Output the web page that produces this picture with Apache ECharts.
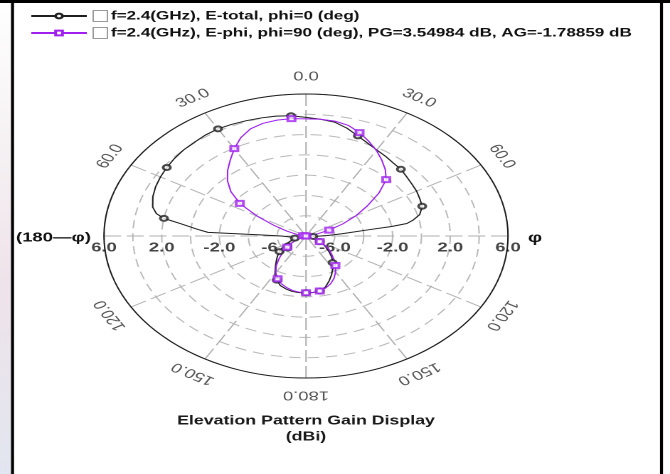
<!DOCTYPE html>
<html>
<head>
<meta charset="utf-8">
<script src="https://cdn.jsdelivr.net/npm/echarts@6/dist/echarts.min.js"></script>
<style>
  html, body { margin: 0; padding: 0; background: #ffffff; overflow: hidden; }
  /* the plot is drawn on a round polar grid and widened to the display's aspect */
  #chart { width: 471px; height: 474px; transform-origin: 0 0; }
</style>
</head>
<body>
<div id="chart"></div>
<script>
// Elevation cut angles (deg from zenith): positive on the φ side, negative on the 180−φ side
const angles = [-180,-175,-170,-165,-160,-155,-150,-145,-140,-135,-130,-125,-120,-115,-110,-105,-100,-95,-90,
  -88,-87,-85,-82,-80,-78,-75,-70,-65,-60,-55,-50,-45,-40,-35,-30,-25,-20,-15,-10,-5,0,5,10,15,20,25,30,35,40,45,
  50,55,60,65,70,75,78,80,81,82,85,88,90,95,100,105,110,115,120,125,130,135,140,145,150,155,160,165,170,175,180];

// Gain (dBi), f = 2.4 GHz, E-total, phi = 0
const eTotal = [-2.4,-2.4,-2.45,-2.6,-2.8,-3.2,-3.7,-4.3,-4.8,-5.2,-5.6,-6.0,-6.4,-6.8,-7.0,-7.2,-7.2,-6.9,-6.3,
  -4.8,-1.2,-0.45,0.8,2.0,2.6,3.0,3.3,3.5,3.65,3.78,3.9,4.0,4.05,4.15,4.2,4.15,4.1,4.05,4.0,3.9,3.7,3.55,3.4,3.0,2.5,
  2.1,1.8,1.6,1.4,1.3,1.1,0.95,0.85,0.7,0.57,0.16,-0.4,-0.9,-2.0,-3.7,-5.5,-6.5,-7.0,-7.5,-7.6,-7.5,-7.3,-7.1,-6.9,
  -6.5,-6.1,-5.7,-5.2,-4.8,-4.3,-3.8,-3.3,-2.8,-2.5,-2.4,-2.4];

// Gain (dBi), f = 2.4 GHz, E-phi, phi = 90
const ePhi = [-2.4,-2.45,-2.55,-2.75,-3.0,-3.35,-3.8,-4.4,-5.1,-5.7,-6.3,-6.8,-7.2,-7.5,-7.8,-8,-8,-8,-8,
  -8,-8,-8,-7.9,-7.8,-7.6,-7.3,-6.6,-5.6,-4.1,-2.4,-1.2,-0.3,0.45,1.15,1.94,2.7,3.25,3.5,3.6,3.62,3.55,3.55,3.5,3.3,2.85,
  2.3,1.75,1.15,0.55,-0.14,-1.4,-2.8,-4.0,-5.2,-6.3,-7.2,-7.5,-7.7,-7.75,-7.8,-7.9,-8,-8,-8,-8,-8,-7.8,-7.4,-6.9,
  -6.4,-5.9,-5.5,-5.0,-4.45,-3.9,-3.4,-3.0,-2.7,-2.5,-2.42,-2.4];

// Angles carrying a marker symbol
const markerAngles = [-180,-155,-130,-105,-80,-55,-30,-5,20,45,70,95,120,145,170];

// Radial scale (dBi)
const gainMin = -8;
const gainMax = 6;
const gainStep = 2;
const radialLabels = [6,2,-2,-6];

// Angular labels (deg)
const angleLabels = [0,30,60,120,150,180,-30,-60,-120,-150];

const seriesNames = ['f=2.4(GHz), E-total, phi=0 (deg)',
                     'f=2.4(GHz), E-phi, phi=90 (deg), PG=3.54984 dB, AG=-1.78859 dB'];

// horizontal stretch of the display (ellipse width / height)
const stretch = 202 / 142;
const pageW = 670, pageH = 474;
const baseW = pageW / stretch;
const el = document.getElementById('chart');
el.style.width = baseW + 'px';
el.style.transform = 'scaleX(' + stretch + ')';

const polarCenter = [306 / stretch, 236];
const polarRadius = 142;
const span = gainMax - gainMin;

const wrap = t => ((t % 360) + 360) % 360;

const series = [];

const curves = [
  { name: seriesNames[0], values: eTotal, color: '#1f1f1f', symbol: 'emptyCircle' },
  { name: seriesNames[1], values: ePhi, color: '#a020f0', symbol: 'emptyRect' }
];
curves.forEach(c => {
  series.push({
    name: c.name, type: 'line', coordinateSystem: 'polar',
    symbol: c.symbol, showSymbol: false, clip: false, z: 3,
    data: angles.map((t, i) => [c.values[i], wrap(t)]),
    lineStyle: { color: c.color, width: 1 },
    itemStyle: { color: c.color, borderColor: c.color, borderWidth: 0.8 }
  });
});
curves.forEach(c => {
  series.push({
    name: c.name, type: 'scatter', coordinateSystem: 'polar',
    symbol: c.symbol, symbolSize: 5, clip: false, z: 4,
    data: markerAngles.map(t => [c.values[angles.indexOf(t)], wrap(t)]),
    itemStyle: { color: c.color, borderColor: c.color, borderWidth: 0.8 }
  });
});

// angle labels just outside the boundary, turned along it
const labelGap = 17;
series.push({
  type: 'scatter', coordinateSystem: 'polar', symbolSize: 1, silent: true, clip: false,
  itemStyle: { color: 'transparent' },
  data: angleLabels.map(t => ({
    value: [gainMax + labelGap / polarRadius * span, wrap(t)],
    label: { rotate: -t, formatter: Math.abs(t).toFixed(1) }
  })),
  label: {
    show: true, position: 'inside', align: 'center', verticalAlign: 'middle',
    fontFamily: 'Liberation Sans', fontSize: 13, color: '#2a2a2a'
  }
});

// radial tick labels along the horizontal axis, both sides
series.push({
  type: 'scatter', coordinateSystem: 'polar', symbolSize: 1, silent: true, clip: false,
  itemStyle: { color: 'transparent' },
  data: radialLabels.flatMap(v => [90, 270].map(a => ({
    value: [v, a],
    label: { formatter: v.toFixed(1) }
  }))),
  label: {
    show: true, position: 'inside', offset: [0, 12], align: 'center', verticalAlign: 'middle',
    fontFamily: 'Liberation Sans', fontSize: 13, fontWeight: 'bold', color: '#161616'
  }
});

const chart = echarts.init(el, null, { renderer: 'canvas', devicePixelRatio: 2 });
chart.setOption({
  animation: false,
  backgroundColor: '#ffffff',
  polar: { center: polarCenter, radius: polarRadius },
  angleAxis: {
    type: 'value', min: 0, max: 360, interval: 30, startAngle: 90, clockwise: true, z: 2,
    axisLine: { show: true, lineStyle: { color: '#1e1e1e', width: 1 } },
    axisTick: { show: false }, axisLabel: { show: false },
    splitLine: { show: true, lineStyle: { color: '#b0b0b0', width: 1, type: [12, 4] } }
  },
  radiusAxis: {
    type: 'value', min: gainMin, max: gainMax, interval: gainStep, z: 1,
    axisLine: { show: false }, axisTick: { show: false }, axisLabel: { show: false },
    splitLine: { show: true, lineStyle: { color: '#b9b9b9', width: 1, type: [8, 5] } }
  },
  legend: {
    orient: 'vertical', left: 21, top: 9, padding: 0, itemWidth: 39, itemHeight: 6, itemGap: 3,
    data: seriesNames, selectedMode: false,
    formatter: name => '{box|}{t|' + name + '}',
    textStyle: {
      fontFamily: 'Liberation Sans', fontSize: 12, fontWeight: 'bold', color: '#111', lineHeight: 14,
      rich: {
        box: { width: 9, height: 10, borderColor: '#9a9a9a', borderWidth: 1, backgroundColor: '#fff' },
        t: { fontFamily: 'Liberation Sans', fontSize: 12, fontWeight: 'bold', color: '#111', lineHeight: 14, padding: [0, 0, 0, 3] }
      }
    }
  },
  graphic: [
    { type: 'rect', left: 0, top: 0, shape: { width: 11 / stretch, height: pageH },
      style: { fill: new echarts.graphic.LinearGradient(0, 0, 0, 1, [
        { offset: 0, color: '#ffffff' }, { offset: 0.3, color: '#f6f2f4' }, { offset: 0.6, color: '#efe3ea' }, { offset: 1, color: '#e2e6f0' }]) } },
    { type: 'rect', left: 0, top: 0, shape: { width: baseW, height: 3 }, style: { fill: '#000' } },
    { type: 'rect', left: 11 / stretch, top: 0, shape: { width: 3 / stretch, height: pageH }, style: { fill: '#000' } },
    { type: 'rect', left: 660 / stretch, top: 0, shape: { width: 3 / stretch, height: pageH }, style: { fill: '#000' } },
    { type: 'text', x: 16 / stretch, y: 238, style: { text: '(180—φ)', font: 'bold 13px "Liberation Sans"', fill: '#111', verticalAlign: 'middle' } },
    { type: 'text', x: 528 / stretch, y: 238, style: { text: 'φ', font: 'bold 14px "Liberation Sans"', fill: '#111', verticalAlign: 'middle' } },
    { type: 'text', x: polarCenter[0], y: 421, style: { text: 'Elevation Pattern Gain Display', font: 'bold 12.5px "Liberation Sans"', fill: '#1a1a1a', align: 'center', verticalAlign: 'middle' } },
    { type: 'text', x: polarCenter[0], y: 437, style: { text: '(dBi)', font: 'bold 12.5px "Liberation Sans"', fill: '#1a1a1a', align: 'center', verticalAlign: 'middle' } }
  ],
  series: series
});
</script>
</body>
</html>
